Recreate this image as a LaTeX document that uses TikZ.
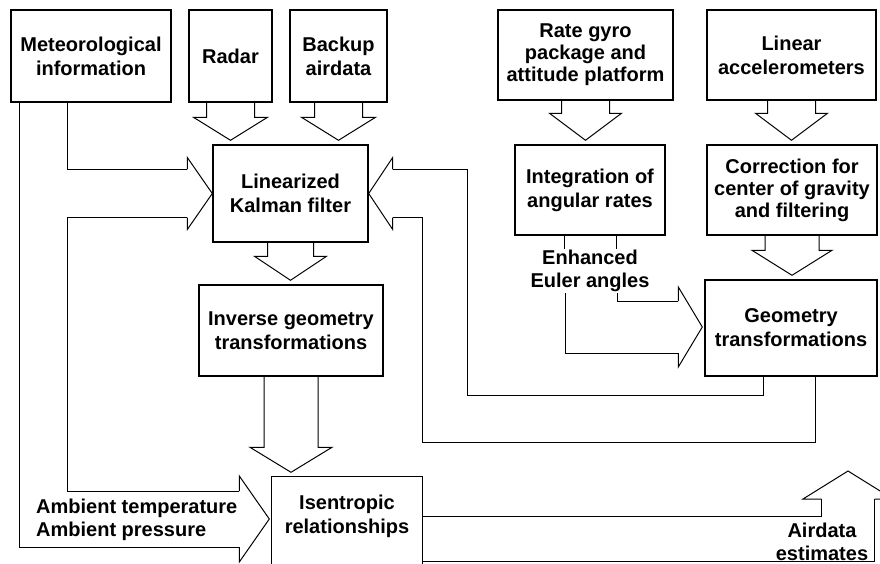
\documentclass[tikz,border=0pt]{standalone}
\usepackage{fontspec}
\setmainfont{Liberation Sans}
\usetikzlibrary{calc, positioning}
\tikzset{
boxline/.style={draw=black, line width=1.4pt},
block/.style={boxline, align=center, inner sep=0pt, font=\fontsize{20}{24}\selectfont\bfseries},
txt/.style={align=center, inner sep=1pt, font=\fontsize{20}{23}\selectfont\bfseries},
hollow/.style={draw=black, line width=1pt, line join=miter},
feed/.style={draw=black, line width=0.8pt},
}
% fat hollow arrows: name/from, to/tip, stem half width, head half width, head length
\newcommand\fatdown[5]{%
  \draw[hollow] ($(#1.south)+(-#3,0)$) -- ($(#1.south |- #2.north)+(-#3,-#5-4)$)
    -- ($(#1.south |- #2.north)+(-#4,-#5-4)$) -- ($(#1.south |- #2.north)+(0,-4)$)
    -- ($(#1.south |- #2.north)+(#4,-#5-4)$) -- ($(#1.south |- #2.north)+(#3,-#5-4)$)
    -- ($(#1.south)+(#3,0)$);}
\newcommand\headright[5]{%
  \coordinate (#1-t) at ($(#2)+(-#5,-#3)$);
  \coordinate (#1-b) at ($(#2)+(-#5,#3)$);
  \draw[hollow] (#1-t) -- ($(#2)+(-#5,-#4)$) -- (#2) -- ($(#2)+(-#5,#4)$) -- (#1-b);}
\newcommand\headleft[5]{%
  \coordinate (#1-t) at ($(#2)+(#5,-#3)$);
  \coordinate (#1-b) at ($(#2)+(#5,#3)$);
  \draw[hollow] (#1-t) -- ($(#2)+(#5,-#4)$) -- (#2) -- ($(#2)+(#5,#4)$) -- (#1-b);}
\newcommand\headup[5]{%
  \coordinate (#1-l) at ($(#2)+(-#3,#5)$);
  \coordinate (#1-r) at ($(#2)+(#3,#5)$);
  \draw[hollow] (#1-l) -- ($(#2)+(-#4,#5)$) -- (#2) -- ($(#2)+(#4,#5)$) -- (#1-r);}

\begin{document}
\begin{tikzpicture}[x=1pt, y=-1pt]
    \useasboundingbox (0,0) rectangle (880,564);
    % sources
    \node[block, minimum width=160pt, minimum height=92pt] (met) at (91,56) {Meteorological\\information};
    \node[block, minimum width=83pt, minimum height=92pt] (radar) at (230.5,56) {Radar};
    \node[block, minimum width=97pt, minimum height=92pt] (backup) at (338.5,56) {Backup\\airdata};
    \node[block, minimum width=175pt, minimum height=90pt, font=\fontsize{20}{22}\selectfont\bfseries] (gyro) at (585.5,55) {Rate gyro\\package and\\attitude platform};
    \node[block, minimum width=169pt, minimum height=90pt] (accel) at (791.5,55) {Linear\\accelerometers};
    % processing
    \node[block, minimum width=155pt, minimum height=97pt] (kalman) at (290.5,193.5) {Linearized\\Kalman filter};
    \node[block, minimum width=150pt, minimum height=90pt] (integ) at (590,190) {Integration of\\angular rates};
    \node[block, minimum width=170pt, minimum height=90pt, font=\fontsize{20}{22}\selectfont\bfseries] (corr) at (792,190) {Correction for\\center of gravity\\and filtering};
    \node[block, minimum width=184pt, minimum height=91pt] (inverse) at (291,330.5) {Inverse geometry\\transformations};
    \node[block, minimum width=172pt, minimum height=96pt] (geom) at (791,328) {Geometry\\transformations};
    \node[block, draw=none, minimum width=150pt, minimum height=78pt] (isen) at (347,516) {Isentropic\\relationships};
    \draw[boxline] ($(isen.south west)+(0,14)$) -- (isen.north west) -- (isen.north east) -- ($(isen.south east)+(0,14)$);
    % labels
    \node[txt] (euler) at (590,271) {Enhanced\\Euler angles};
    \node[txt, align=left, anchor=west] (amb) at (35,520) {Ambient temperature\\Ambient pressure};
    \node[txt] (est) at (822,542) {Airdata\\estimates};
    % big arrows
    \fatdown{radar}{kalman}{24}{37}{23}
    \fatdown{backup}{kalman}{24}{37}{23}
    \fatdown{kalman}{inverse}{23}{36}{24}
    \fatdown{gyro}{integ}{24}{36}{27}
    \fatdown{accel}{corr}{24}{36}{27}
    \fatdown{corr}{geom}{27}{40}{25}
    \fatdown{inverse}{isen}{27}{41}{25}
    \headright{kl}{kalman.west}{24}{36}{25}
    \headleft{kr}{kalman.east}{24}{36}{24}
    \coordinate (isin) at ($(isen.west)+(-2,3)$);
    \headright{il}{isin}{28}{43}{30}
    \coordinate (gin) at ($(geom.west)+(-2,-1)$);
    \headright{gl}{gin}{26}{40}{24}
    \coordinate (aout) at (848,471);
    \headup{au}{aout}{26.5}{45}{28}
    % feed lines
    \coordinate (metin) at ($(met.south west)+(57,0)$);
    \coordinate (metout) at ($(met.south west)+(9,0)$);
    \draw[feed] (metin) |- (kl-t);
    \draw[feed] (metout) |- (il-b);
    \draw[feed] (kl-b) -| (metin |- il-t) -- (il-t);
    \draw[feed] (kr-t) -| (467,395) -| ($(geom.south)+(-28,0)$);
    \draw[feed] (kr-b) -| (422,442) -| ($(geom.south)+(24,0)$);
    \draw[hollow] ($(integ.south)+(-26,0)$) -- ++(0,13);
    \draw[hollow] ($(integ.south)+(26,0)$) -- ++(0,13);
    \draw[hollow] ($(euler.south)+(27,0)$) |- (gl-t);
    \draw[hollow] ($(euler.south)+(-25,0)$) |- (gl-b);
    \draw[feed] (isen.east) -| (au-l);
    \draw[feed] ($(isen.east)+(0,45)$) -| (au-r);
\end{tikzpicture}
\end{document}
